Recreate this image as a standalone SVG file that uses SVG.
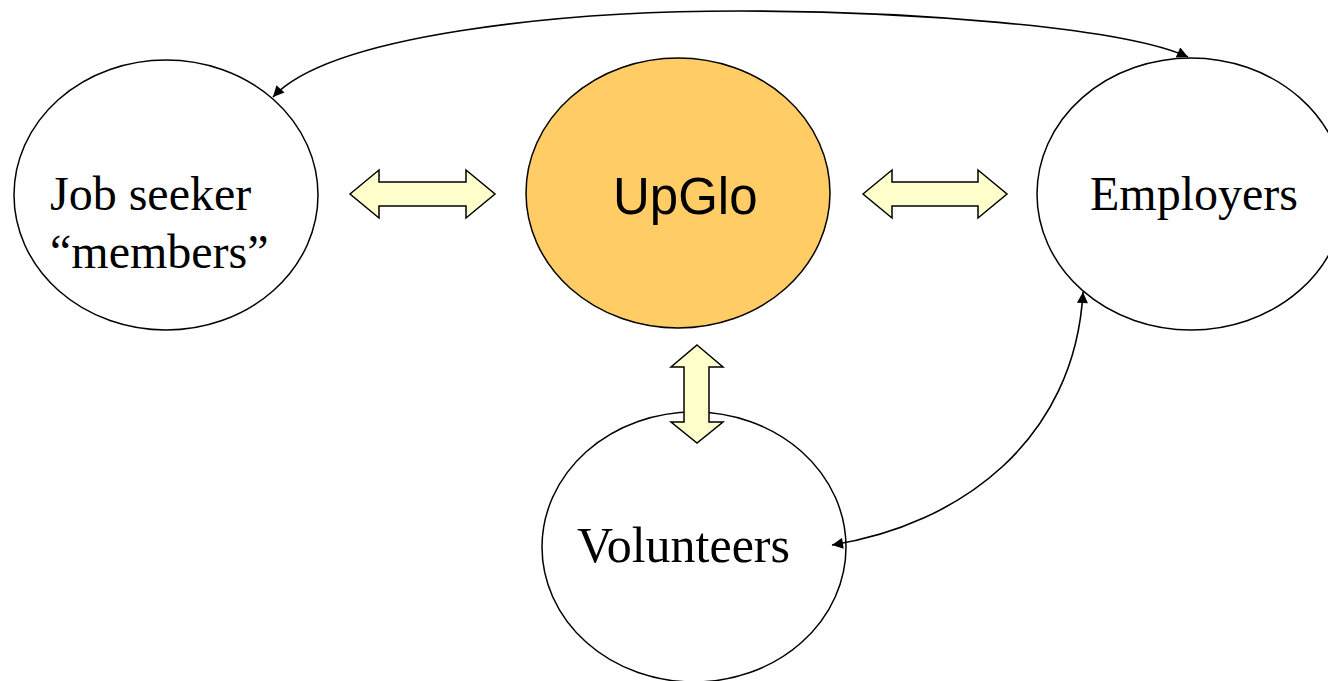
<svg xmlns="http://www.w3.org/2000/svg" width="1328" height="681" viewBox="0 0 1328 681">
  <style>
    .node { fill: #ffffff; stroke: #000000; stroke-width: 1.5; }
    .hub { fill: #ffcc66; stroke: #000000; stroke-width: 1.5; }
    .serif { font-family: "Liberation Serif", "Times New Roman", serif; font-size: 48px; fill: #000000; }
    .sans { font-family: "Liberation Sans", Arial, sans-serif; font-size: 51px; fill: #000000; }
    .conn { fill: none; stroke: #000000; stroke-width: 1.6; marker-start: url(#tip); marker-end: url(#tip); }
    .block { fill: #ffffcc; stroke: #000000; stroke-width: 1.5; stroke-linejoin: miter; }
  </style>
  <defs>
    <marker id="tip" viewBox="0 0 10 10" refX="10" refY="5" markerUnits="userSpaceOnUse" markerWidth="13" markerHeight="11" orient="auto-start-reverse">
      <path d="M0,0 L10,5 L0,10 z" fill="#000000"/>
    </marker>
  </defs>
  <rect width="1328" height="681" fill="#ffffff"/>

  <g id="jobseekers">
    <ellipse class="node" cx="166" cy="195" rx="152" ry="135"/>
    <text class="serif" x="50" y="210">Job seeker</text>
    <text class="serif" x="50" y="268">“members”</text>
  </g>

  <g id="upglo">
    <ellipse class="hub" cx="678" cy="193" rx="152" ry="135"/>
    <text class="sans" x="613" y="214">UpGlo</text>
  </g>

  <g id="employers">
    <ellipse class="node" cx="1191" cy="194" rx="154" ry="136"/>
    <text class="serif" x="1090" y="210">Employers</text>
  </g>

  <g id="volunteers">
    <ellipse class="node" cx="694" cy="547" rx="152" ry="135"/>
    <text class="serif" x="577" y="562" style="font-size:50px">Volunteers</text>
  </g>

  <g id="connectors">
    <path class="conn" d="M273,97 C330,35 560,11 740,11 C900,11 1120,26 1188,57"/>
    <path class="conn" d="M832,545 C960,525 1075,440 1083,292"/>
    <polygon class="block" points="350,194 379,170 379,182 466,182 466,170 495,194 466,218 466,206 379,206 379,218"/>
    <polygon class="block" points="863,194 892,170 892,182 978,182 978,170 1007,194 978,218 978,206 892,206 892,218"/>
    <polygon class="block" points="697,345 723,367 709,367 709,422 723,422 697,443 671,422 684,422 684,367 671,367"/>
  </g>
</svg>
